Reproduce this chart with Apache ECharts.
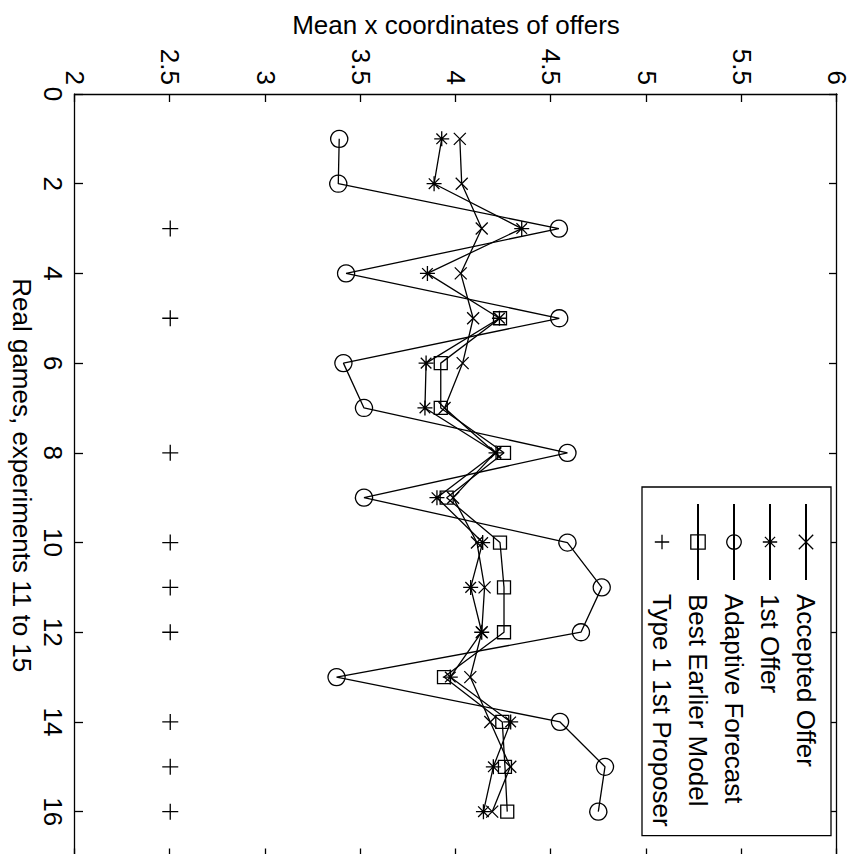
<!DOCTYPE html>
<html><head><meta charset="utf-8">
<script src="https://cdn.jsdelivr.net/npm/echarts@6/dist/echarts.min.js"></script>
<style>
html,body{margin:0;padding:0;width:850px;height:854px;overflow:hidden;background:#fff;}
#chart{position:absolute;left:0;top:0;width:870px;height:850px;transform-origin:0 0;transform:translateX(850px) rotate(90deg);}
</style></head><body><div id="chart"></div>
<script>
// Data
const games = [1,2,3,4,5,6,7,8,9,10,11,12,13,14,15,16];
const acceptedOffer = [4.02,4.03,4.135,4.025,4.09,4.035,3.94,4.205,3.985,4.11,4.15,4.135,4.075,4.18,4.285,4.19];
const firstOffer = [3.925,3.885,4.345,3.85,4.228,3.843,3.837,4.21,3.9,4.14,4.077,4.135,3.97,4.287,4.196,4.144];
const adaptiveForecast = [3.387,3.382,4.54,3.423,4.542,3.409,3.517,4.585,3.517,4.585,4.765,4.656,3.373,4.546,4.782,4.747];
const bestGames = [5,6,7,8,9,10,11,12,13,14,15,16];
const bestEarlierModel = [4.231,3.92,3.92,4.252,3.951,4.231,4.252,4.252,3.937,4.243,4.257,4.269];
const type1Games = [3,5,8,10,11,12,14,15,16];
const type1Values = [2.5,2.5,2.5,2.5,2.5,2.5,2.5,2.5,2.5];
const seriesNames = ['Accepted Offer','1st Offer','Adaptive Forecast','Best Earlier Model','Type 1 1st Proposer'];
const xTitle = 'Real games, experiments 11 to 15';
const yTitle = 'Mean x coordinates of offers';

const F = "'Liberation Sans', Arial, Helvetica, sans-serif";
const BLACK = '#000';
const LW = 1.3;
const pair = (xs, ys) => xs.map((x, i) => [x, ys[i]]);

const SYM_X = 'path://M0,0L10,10M10,0L0,10';
const SYM_STAR = 'path://M5,0L5,10M0,5L10,5M1.46,1.46L8.54,8.54M8.54,1.46L1.46,8.54';
const SYM_PLUS = 'path://M5,0L5,10M0,5L10,5';

function mkSeries(name, data, symbol, size, showLine) {
  return {
    name, type: 'line', data, symbol, symbolSize: size,
    xAxisIndex: 0, yAxisIndex: 0,
    color: BLACK,
    lineStyle: {color: BLACK, width: LW, opacity: showLine ? 1 : 0},
    itemStyle: {color: 'none', borderColor: BLACK, borderWidth: LW},
    emphasis: {disabled: true},
    silent: true,
    z: 2
  };
}

const axisLineStyle = {color: BLACK, width: LW};
const labelStyle = {color: BLACK, fontSize: 26, fontFamily: F};

const chart = echarts.init(document.getElementById('chart'), null, {renderer: 'svg'});
chart.setOption({
  animation: false,
  backgroundColor: '#fff',
  grid: {left: 94, top: 13, width: 762.5, height: 762, outerBoundsMode: 'none', containLabel: false},
  xAxis: [
    {type: 'value', min: 0, max: 17, interval: 2, position: 'bottom',
     axisLine: {show: true, onZero: false, lineStyle: axisLineStyle},
     axisTick: {show: true, inside: true, length: 8, lineStyle: axisLineStyle},
     axisLabel: Object.assign({margin: 9, showMaxLabel: false, formatter: v => (v === 17 ? '' : String(v))}, labelStyle),
     splitLine: {show: false},
     name: xTitle, nameLocation: 'middle', nameGap: 36,
     nameTextStyle: {color: BLACK, fontSize: 26, fontFamily: F}},
    {type: 'value', min: 0, max: 17, interval: 2, position: 'top',
     axisLine: {show: true, onZero: false, lineStyle: axisLineStyle},
     axisTick: {show: true, inside: true, length: 8, lineStyle: axisLineStyle},
     axisLabel: {show: false}, splitLine: {show: false}}
  ],
  yAxis: [
    {type: 'value', min: 2, max: 6, interval: 0.5, position: 'left',
     axisLine: {show: true, onZero: false, lineStyle: axisLineStyle},
     axisTick: {show: true, inside: true, length: 8, lineStyle: axisLineStyle},
     axisLabel: Object.assign({margin: 9}, labelStyle),
     splitLine: {show: false},
     name: yTitle, nameLocation: 'middle', nameGap: 54,
     nameTextStyle: {color: BLACK, fontSize: 26, fontFamily: F}},
    {type: 'value', min: 2, max: 6, interval: 0.5, position: 'right',
     axisLine: {show: true, onZero: false, lineStyle: axisLineStyle},
     axisTick: {show: true, inside: true, length: 8, lineStyle: axisLineStyle},
     axisLabel: {show: false}, splitLine: {show: false}}
  ],
  legend: {
    orient: 'vertical', left: 487, top: 19,
    itemWidth: 76, itemHeight: 18, itemGap: 10,
    padding: [12, 9, 7, 16],
    borderColor: BLACK, borderWidth: LW, backgroundColor: '#fff',
    selectedMode: false,
    itemStyle: {borderWidth: LW},
    textStyle: {color: BLACK, fontSize: 26, fontFamily: F, lineHeight: 26, padding: [0, 0, 0, 9]},
    data: seriesNames
  },
  series: [
    mkSeries(seriesNames[0], pair(games, acceptedOffer), SYM_X, 12, true),
    mkSeries(seriesNames[1], pair(games, firstOffer), SYM_STAR, 15, true),
    mkSeries(seriesNames[2], pair(games, adaptiveForecast), 'circle', 17, true),
    mkSeries(seriesNames[3], pair(bestGames, bestEarlierModel), 'rect', 13, true),
    mkSeries(seriesNames[4], pair(type1Games, type1Values), SYM_PLUS, 16, false)
  ]
});
</script></body></html>
